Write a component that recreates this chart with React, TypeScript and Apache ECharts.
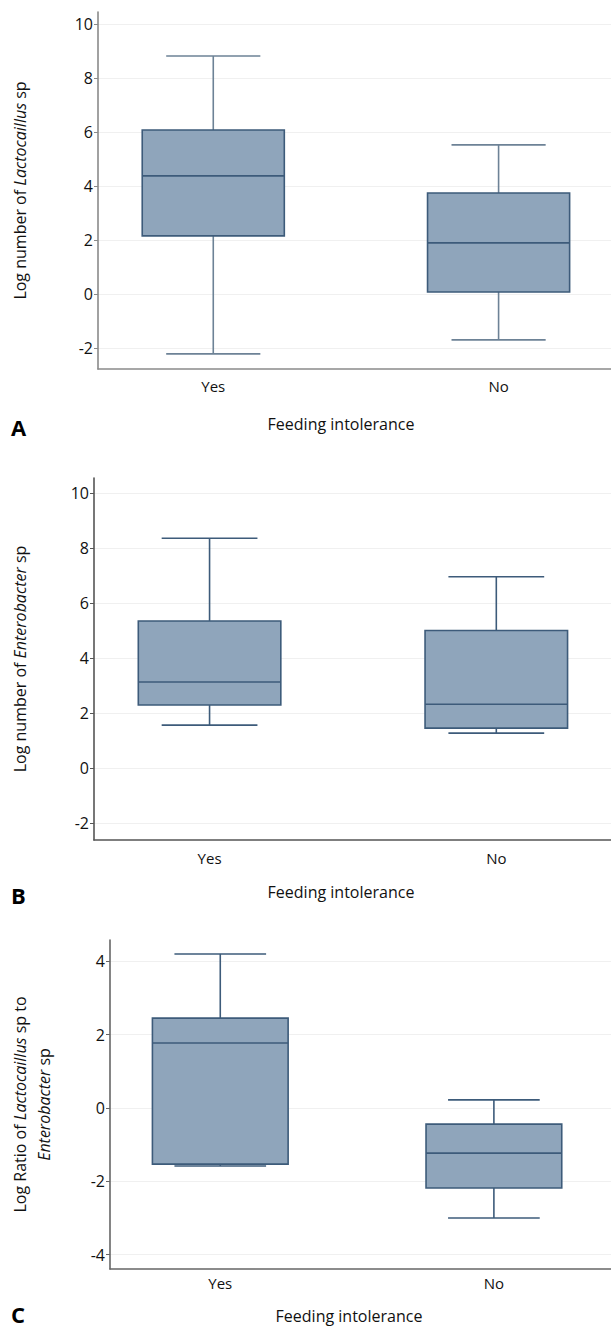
import React, { useEffect, useRef } from "react";
import * as echarts from "echarts";

// ---- data ----
const groupNames = ["Yes", "No"];
const groupPos = [1, 2];
// each box: [min, Q1, median, Q3, max]
const lactoYes = [-2.22, 2.15, 4.37, 6.07, 8.81];
const lactoNo = [-1.7, 0.07, 1.89, 3.74, 5.52];
const enteroYes = [1.56, 2.29, 3.13, 5.35, 8.36];
const enteroNo = [1.27, 1.45, 2.32, 5.0, 6.96];
const ratioYes = [-1.58, -1.53, 1.77, 2.45, 4.2];
const ratioNo = [-3.0, -2.18, -1.23, -0.44, 0.22];
const ticksAB = [-2, 0, 2, 4, 6, 8, 10];
const ticksC = [-4, -2, 0, 2, 4];

const FONT = "Open Sans";
const FILL = "#8fa5bb";
const STROKE = "#3d5b7a";

function makeRender(boxW: number, capW: number, whisker: string) {
  return (params: any, api: any) => {
    const x = api.value(0);
    const p = (v: number) => api.coord([x, v]);
    const mn = p(api.value(1));
    const q1 = p(api.value(2));
    const md = p(api.value(3));
    const q3 = p(api.value(4));
    const mx = p(api.value(5));
    const bw = api.size([boxW, 0])[0];
    const cw = api.size([capW, 0])[0];
    const cx = mn[0];
    const ls = { stroke: whisker, lineWidth: 1.6 };
    return {
      type: "group",
      children: [
        { type: "line", shape: { x1: cx, y1: mx[1], x2: cx, y2: q3[1] }, style: ls },
        { type: "line", shape: { x1: cx, y1: q1[1], x2: cx, y2: mn[1] }, style: ls },
        { type: "line", shape: { x1: cx - cw / 2, y1: mx[1], x2: cx + cw / 2, y2: mx[1] }, style: ls },
        { type: "line", shape: { x1: cx - cw / 2, y1: mn[1], x2: cx + cw / 2, y2: mn[1] }, style: ls },
        {
          type: "rect",
          shape: { x: cx - bw / 2, y: q3[1], width: bw, height: q1[1] - q3[1] },
          style: { fill: FILL, stroke: STROKE, lineWidth: 1.6 },
        },
        { type: "line", shape: { x1: cx - bw / 2, y1: md[1], x2: cx + bw / 2, y2: md[1] }, style: { stroke: STROKE, lineWidth: 1.6 } },
      ],
    };
  };
}

const panels = [
  {
    grid: { left: 95, top: 12, width: 516, height: 357 },
    xr: [0.596, 2.394],
    yr: [-2.78, 10.44],
    ticks: ticksAB,
    boxes: [lactoYes, lactoNo],
    name: "Log number of {i|Lactocaillus} sp",
    nameGap: 66,
    axisColor: "#8a8a8a",
    whisker: "#6d8296",
    boxW: 0.498,
    capW: 0.33,
    labelMargin: 9,
  },
  {
    grid: { left: 88, top: 478, width: 523, height: 362 },
    xr: [0.597, 2.4],
    yr: [-2.62, 10.55],
    ticks: ticksAB,
    boxes: [enteroYes, enteroNo],
    name: "Log number of {i|Enterobacter} sp",
    nameGap: 62,
    axisColor: "#555555",
    whisker: "#3d5b7a",
    boxW: 0.497,
    capW: 0.334,
    labelMargin: 10,
  },
  {
    grid: { left: 102, top: 940, width: 509, height: 329 },
    xr: [0.597, 2.428],
    yr: [-4.39, 4.58],
    ticks: ticksC,
    boxes: [ratioYes, ratioNo],
    name: "Log Ratio of {i|Lactocaillus} sp to\n{i|Enterobacter} sp",
    nameGap: 54,
    axisColor: "#666666",
    whisker: "#3d5b7a",
    boxW: 0.496,
    capW: 0.335,
    labelMargin: 6,
  },
];

const letters = [
  { t: "A", y: 427, fy: 424, fx: 341 },
  { t: "B", y: 895, fy: 892, fx: 341 },
  { t: "C", y: 1314, fy: 1316, fx: 349 },
];

export default function App() {
  const ref = useRef<HTMLDivElement>(null);
  useEffect(() => {
    if (!ref.current) return;
    const chart = echarts.init(ref.current, undefined, { renderer: "svg" });
    const option: any = {
      animation: false,
      backgroundColor: "#ffffff",
      grid: panels.map((p) => ({ ...p.grid, containLabel: false })),
      xAxis: panels.map((p, i) => ({
        type: "value",
        gridIndex: i,
        min: p.xr[0],
        max: p.xr[1],
        axisLine: { show: true, onZero: false, lineStyle: { color: p.axisColor, width: 1.6 } },
        axisTick: { show: false },
        splitLine: { show: false },
        axisLabel: {
          customValues: groupPos,
          formatter: (v: number) => groupNames[groupPos.indexOf(Math.round(v))] ?? "",
          color: "#111",
          fontFamily: FONT,
          fontSize: 15,
          margin: p.labelMargin,
        },
      })),
      yAxis: panels.map((p, i) => ({
        type: "value",
        gridIndex: i,
        min: p.yr[0],
        max: p.yr[1],
        name: p.name,
        nameLocation: "middle",
        nameRotate: 90,
        nameGap: p.nameGap,
        nameTextStyle: {
          color: "#111",
          fontFamily: FONT,
          fontSize: 16,
          lineHeight: 24,
          rich: { i: { fontStyle: "italic", fontFamily: FONT, fontSize: 16, color: "#111", lineHeight: 24 } },
        },
        axisLine: { show: true, onZero: false, lineStyle: { color: p.axisColor, width: 1.6 } },
        axisTick: { show: true, length: 4, customValues: p.ticks, lineStyle: { color: p.axisColor } },
        axisLabel: { customValues: p.ticks, color: "#111", fontFamily: FONT, fontSize: 16, margin: 5 },
        splitLine: { show: true, lineStyle: { color: "#f0f0f0", width: 1 } },
      })),
      series: panels.map((p, i) => ({
        type: "custom",
        xAxisIndex: i,
        yAxisIndex: i,
        renderItem: makeRender(p.boxW, p.capW, p.whisker),
        encode: { x: 0, y: [1, 2, 3, 4, 5] },
        data: p.boxes.map((b, j) => [groupPos[j], ...b]),
        silent: true,
      })),
      graphic: letters.flatMap((l) => [
        {
          type: "text",
          x: 11,
          y: l.y,
          style: {
            text: l.t,
            font: `bold 22px "Open Sans"`,
            lineHeight: 24,
            fill: "#000",
            verticalAlign: "middle",
          },
        },
        {
          type: "text",
          x: l.fx,
          y: l.fy,
          style: {
            text: "Feeding intolerance",
            fontFamily: FONT,
            fontSize: 16,
            lineHeight: 20,
            fill: "#111",
            align: "center",
            verticalAlign: "middle",
          },
        },
      ]),
    };
    chart.setOption(option);
    return () => chart.dispose();
  }, []);
  return (
    <div
      ref={ref}
      style={{ position: "absolute", left: 0, top: 0, width: 611, height: 1328, background: "#fff" }}
    />
  );
}
